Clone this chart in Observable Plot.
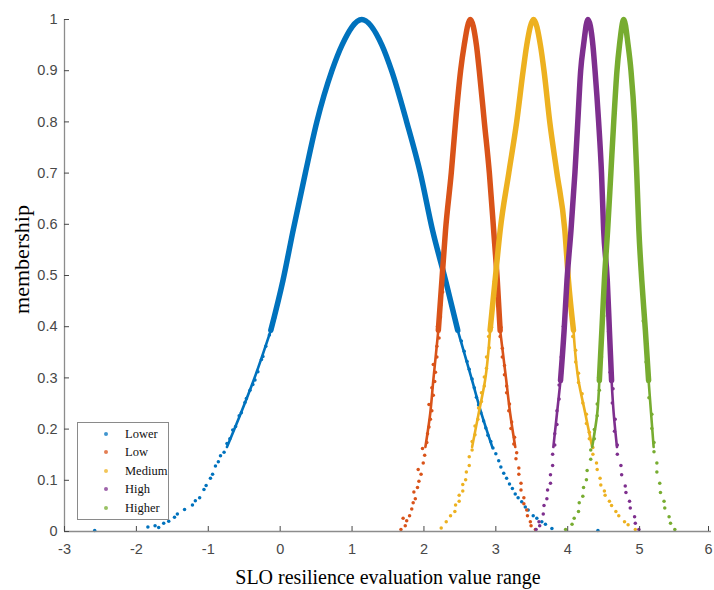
<!DOCTYPE html>
<html><head><meta charset="utf-8">
<script src="https://cdn.jsdelivr.net/npm/d3@7"></script>
<script src="https://cdn.jsdelivr.net/npm/@observablehq/plot@0.6"></script>
<style>
html,body{margin:0;padding:0;background:#fff;}
#wrap{position:relative;width:714px;height:590px;overflow:hidden;}
#legend{position:absolute;left:77px;top:422px;width:90px;height:96px;border:1px solid #8a8a8a;background:#fff;font-family:"Liberation Serif","Times New Roman",serif;font-size:12.5px;color:#111;}
#legend .row{position:absolute;left:0;height:16px;line-height:16px;white-space:nowrap;}
#legend .mk{position:absolute;left:26px;top:6px;width:4px;height:4px;border-radius:2px;}
#legend .lb{position:absolute;left:47px;top:0;}
</style></head><body><div id="wrap"></div>
<script>
// ---- data ----
const seriesNames = ["Lower", "Low", "Medium", "High", "Higher"];
const seriesColors = ["#0072BD", "#D95319", "#EDB120", "#7E2F8E", "#77AC30"];
const xTicks = [-3, -2, -1, 0, 1, 2, 3, 4, 5, 6];
const yTicks = [0, 0.1, 0.2, 0.3, 0.4, 0.5, 0.6, 0.7, 0.8, 0.9, 1];

// membership levels at which both branches of each cloud were read
const levels = [0.01, 0.035, 0.1, 0.165, 0.23, 0.295, 0.393, 0.491, 0.588, 0.7, 0.8, 0.9, 0.95];
const peakX = [1.136, 2.644, 3.525, 4.28, 4.78];

const lowerLeft   = [-1.68, -1.36, -0.98, -0.74, -0.55, -0.37, -0.13, 0.04, 0.18, 0.35, 0.51, 0.72, 0.86];
const lowerRight  = [3.68, 3.48, 3.16, 2.95, 2.80, 2.67, 2.47, 2.30, 2.12, 1.95, 1.76, 1.55, 1.415];
const lowLeft     = [1.71, 1.785, 1.925, 2.02, 2.087, 2.13, 2.20, 2.25, 2.30, 2.38, 2.44, 2.51, 2.56];
const lowRight    = [3.52, 3.43, 3.34, 3.27, 3.20, 3.145, 3.06, 3.02, 2.97, 2.91, 2.84, 2.77, 2.73];
const mediumLeft  = [2.25, 2.41, 2.575, 2.67, 2.76, 2.85, 2.92, 2.99, 3.06, 3.18, 3.29, 3.38, 3.43];
const mediumRight = [4.91, 4.685, 4.45, 4.34, 4.245, 4.15, 4.08, 4.01, 3.96, 3.85, 3.75, 3.67, 3.62];
const highLeft    = [3.59, 3.64, 3.76, 3.80, 3.85, 3.90, 3.95, 3.99, 4.045, 4.10, 4.14, 4.18, 4.22];
const highRight   = [4.96, 4.915, 4.78, 4.685, 4.64, 4.61, 4.58, 4.55, 4.50, 4.47, 4.43, 4.38, 4.35];
const higherLeft  = [3.99, 4.13, 4.245, 4.34, 4.41, 4.44, 4.475, 4.51, 4.555, 4.60, 4.64, 4.685, 4.72];
const higherRight = [5.47, 5.38, 5.265, 5.195, 5.16, 5.125, 5.08, 5.03, 4.99, 4.96, 4.93, 4.88, 4.84];

// scattered cloud drops in the sparse lower parts [x, membership]
const lowerDots = [[-2.58,0.002],[-1.84,0.009],[-1.74,0.011],[-1.69,0.008],[-1.62,0.016],[-1.55,0.02],[-1.47,0.028],[-1.43,0.034],[-1.33,0.043],[-1.22,0.052],[-1.18,0.06],[-1.12,0.066],[-1.06,0.082],[-1.03,0.09],[-0.97,0.104],[-0.94,0.112],[-0.9,0.128],[-0.86,0.136],[-0.83,0.148],[-0.78,0.155],[-0.74,0.172],[-0.7,0.181],[-0.66,0.198],[-0.62,0.205],[-0.57,0.226],[-0.54,0.232],[-0.49,0.252],[-0.47,0.26],[-0.42,0.276],[-0.38,0.287],[-0.35,0.296],[-0.31,0.312],[-0.26,0.336],[-0.24,0.342],[-0.2,0.362],[-0.15,0.384],[-0.12,0.398],[-0.08,0.416],[-0.05,0.435],[-0.02,0.452],[0.01,0.472],[0.03,0.488],
  [4.42,0.002],[3.78,0.006],[3.69,0.014],[3.64,0.019],[3.57,0.026],[3.52,0.031],[3.45,0.042],[3.41,0.048],[3.36,0.058],[3.31,0.066],[3.27,0.073],[3.23,0.084],[3.19,0.093],[3.15,0.104],[3.11,0.114],[3.07,0.126],[3.04,0.138],[3.0,0.152],[2.96,0.163],[2.93,0.176],[2.89,0.188],[2.86,0.202],[2.83,0.216],[2.79,0.232],[2.76,0.247],[2.73,0.262],[2.7,0.281],[2.67,0.298],[2.63,0.317],[2.6,0.332],[2.56,0.352],[2.52,0.372],[2.48,0.391],[2.44,0.412],[2.41,0.431],[2.37,0.452],[2.34,0.471]];
const lowDots = [[1.68,0.004],[1.74,0.011],[1.76,0.021],[1.71,0.026],[1.8,0.031],[1.83,0.044],[1.85,0.056],[1.88,0.064],[1.86,0.077],[1.91,0.086],[1.93,0.098],[1.96,0.112],[1.92,0.121],[1.99,0.134],[2.01,0.149],[1.98,0.162],[2.04,0.174],[2.05,0.191],[2.07,0.204],[2.09,0.219],[2.11,0.236],[2.07,0.248],[2.13,0.266],[2.11,0.281],[2.15,0.293],[2.16,0.311],[2.13,0.326],[2.18,0.341],[2.18,0.362],[2.21,0.378],[2.19,0.401],[2.23,0.419],[2.23,0.442],[2.26,0.468],
  [3.55,0.004],[3.49,0.011],[3.48,0.019],[3.44,0.031],[3.43,0.042],[3.39,0.054],[3.39,0.066],[3.35,0.081],[3.35,0.094],[3.32,0.112],[3.32,0.124],[3.28,0.142],[3.29,0.154],[3.25,0.171],[3.26,0.184],[3.21,0.201],[3.22,0.214],[3.18,0.236],[3.19,0.249],[3.15,0.271],[3.15,0.284],[3.12,0.306],[3.12,0.324],[3.09,0.341],[3.09,0.358],[3.06,0.381],[3.07,0.399],[3.04,0.421],[3.04,0.444],[3.02,0.471]];
const mediumDots = [[2.24,0.007],[2.31,0.019],[2.37,0.031],[2.43,0.039],[2.44,0.052],[2.49,0.059],[2.49,0.071],[2.54,0.079],[2.54,0.092],[2.58,0.101],[2.59,0.116],[2.63,0.129],[2.63,0.146],[2.67,0.159],[2.67,0.176],[2.71,0.189],[2.71,0.206],[2.75,0.219],[2.76,0.241],[2.8,0.254],[2.8,0.271],[2.84,0.284],[2.84,0.302],[2.87,0.319],[2.87,0.341],[2.91,0.359],[2.9,0.381],[2.94,0.399],[2.94,0.431],[2.98,0.459],[2.98,0.489],
  [4.94,0.004],[4.84,0.013],[4.79,0.019],[4.71,0.031],[4.67,0.039],[4.61,0.051],[4.58,0.059],[4.52,0.071],[4.51,0.079],[4.46,0.091],[4.45,0.104],[4.41,0.121],[4.4,0.134],[4.35,0.151],[4.35,0.164],[4.3,0.181],[4.3,0.194],[4.26,0.211],[4.26,0.229],[4.21,0.251],[4.2,0.269],[4.15,0.291],[4.15,0.309],[4.11,0.331],[4.11,0.354],[4.07,0.381],[4.07,0.409],[4.03,0.441],[4.03,0.469]];
const highDots = [[3.56,0.004],[3.61,0.011],[3.6,0.019],[3.66,0.034],[3.67,0.051],[3.71,0.064],[3.72,0.081],[3.76,0.094],[3.76,0.111],[3.79,0.129],[3.79,0.151],[3.82,0.169],[3.82,0.191],[3.85,0.209],[3.85,0.236],[3.88,0.259],[3.88,0.286],[3.91,0.309],[3.91,0.341],[3.95,0.369],[3.94,0.401],[3.98,0.439],[3.98,0.479],
  [4.99,0.004],[4.94,0.016],[4.93,0.029],[4.87,0.046],[4.86,0.059],[4.81,0.076],[4.8,0.089],[4.75,0.111],[4.74,0.129],[4.69,0.151],[4.69,0.169],[4.65,0.196],[4.66,0.219],[4.62,0.251],[4.63,0.279],[4.59,0.311],[4.6,0.349],[4.57,0.391],[4.57,0.429],[4.54,0.471]];
const higherDots = [[3.97,0.004],[4.06,0.014],[4.09,0.026],[4.15,0.039],[4.16,0.056],[4.21,0.069],[4.22,0.086],[4.26,0.101],[4.27,0.119],[4.32,0.141],[4.32,0.159],[4.37,0.181],[4.37,0.199],[4.41,0.226],[4.41,0.249],[4.44,0.276],[4.43,0.301],[4.47,0.341],[4.46,0.379],[4.5,0.421],[4.49,0.459],
  [5.49,0.004],[5.43,0.016],[5.41,0.029],[5.35,0.046],[5.34,0.059],[5.29,0.076],[5.28,0.094],[5.24,0.116],[5.24,0.134],[5.2,0.156],[5.2,0.174],[5.17,0.201],[5.17,0.229],[5.13,0.261],[5.13,0.294],[5.09,0.331],[5.09,0.369],[5.05,0.411],[5.05,0.449],[5.02,0.491]];

// ---- build ----
const branches = [
  [lowerLeft, lowerRight, lowerDots],
  [lowLeft, lowRight, lowDots],
  [mediumLeft, mediumRight, mediumDots],
  [highLeft, highRight, highDots],
  [higherLeft, higherRight, higherDots]
];
const denseFrom = [0.39, 0.39, 0.39, 0.29, 0.29];
const midFrom = 0.16;

const marks = [];
branches.forEach(([L, R, D], i) => {
  const lp = levels.map((y, k) => ({x: L[k], y}));
  const rp = levels.map((y, k) => ({x: R[k], y}));
  const left = lp.filter(d => d.y >= denseFrom[i]);
  const right = rp.filter(d => d.y >= denseFrom[i]).reverse();
  const band = [...left, {x: peakX[i], y: 1}, ...right];
  const midL = lp.filter(d => d.y >= midFrom && d.y <= denseFrom[i] + 0.01);
  const midR = rp.filter(d => d.y >= midFrom && d.y <= denseFrom[i] + 0.01).reverse();
  marks.push(Plot.line(midL, {x: "x", y: "y", stroke: seriesColors[i], strokeWidth: 2.6, curve: "monotone-y", strokeLinecap: "round"}));
  marks.push(Plot.line(midR, {x: "x", y: "y", stroke: seriesColors[i], strokeWidth: 2.6, curve: "monotone-y", strokeLinecap: "round"}));
  marks.push(Plot.line(band, {x: "x", y: "y", stroke: seriesColors[i], strokeWidth: 5.5, curve: "monotone-x", strokeLinecap: "round"}));
  marks.push(Plot.dot(D, {x: d => d[0], y: d => d[1], fill: seriesColors[i], r: 1.75}));
});

const axisStyle = {tickFormat: d => String(d), tickSize: -5, label: null, color: "#484848", fontSize: 14.5};
const chart = Plot.plot({
  width: 714, height: 590,
  marginLeft: 64, marginRight: 3, marginTop: 19, marginBottom: 59,
  x: {domain: [-3, 6]},
  y: {domain: [0, 1]},
  style: {fontFamily: "'Liberation Sans', Arial, sans-serif", fontSize: "14px", background: "white", overflow: "visible"},
  marks: [
    ...marks,
    Plot.ruleX([-3], {stroke: "#8c8c8c", strokeWidth: 1.3}),
    Plot.ruleY([0], {stroke: "#8c8c8c", strokeWidth: 1.3}),
    Plot.axisX({...axisStyle, ticks: xTicks.slice(0, -1), tickPadding: 17}),
    Plot.axisX({...axisStyle, ticks: xTicks.slice(-1), tickPadding: 17, dx: -3}),
    Plot.axisY({...axisStyle, ticks: yTicks, tickPadding: 12}),
    Plot.text(["membership"], {frameAnchor: "left", dx: -43, dy: -16, rotate: -90, textAnchor: "middle", lineAnchor: "middle", fontFamily: "'Liberation Serif', 'Times New Roman', serif", fontSize: 22, fill: "#000"}),
    Plot.text(["SLO resilience evaluation value range"], {frameAnchor: "bottom", dy: 46, textAnchor: "middle", lineAnchor: "middle", fontFamily: "'Liberation Serif', 'Times New Roman', serif", fontSize: 20, fill: "#000"})
  ]
});
const wrap = document.getElementById("wrap");
wrap.appendChild(chart);

// legend
const legend = d3.select(wrap).append("div").attr("id", "legend");
seriesNames.forEach((name, i) => {
  const row = legend.append("div").attr("class", "row").style("top", (3 + i * 18.4) + "px").style("width", "90px");
  row.append("div").attr("class", "mk").style("background", seriesColors[i]).style("opacity", 0.75);
  row.append("div").attr("class", "lb").text(name);
});
</script></body></html>
